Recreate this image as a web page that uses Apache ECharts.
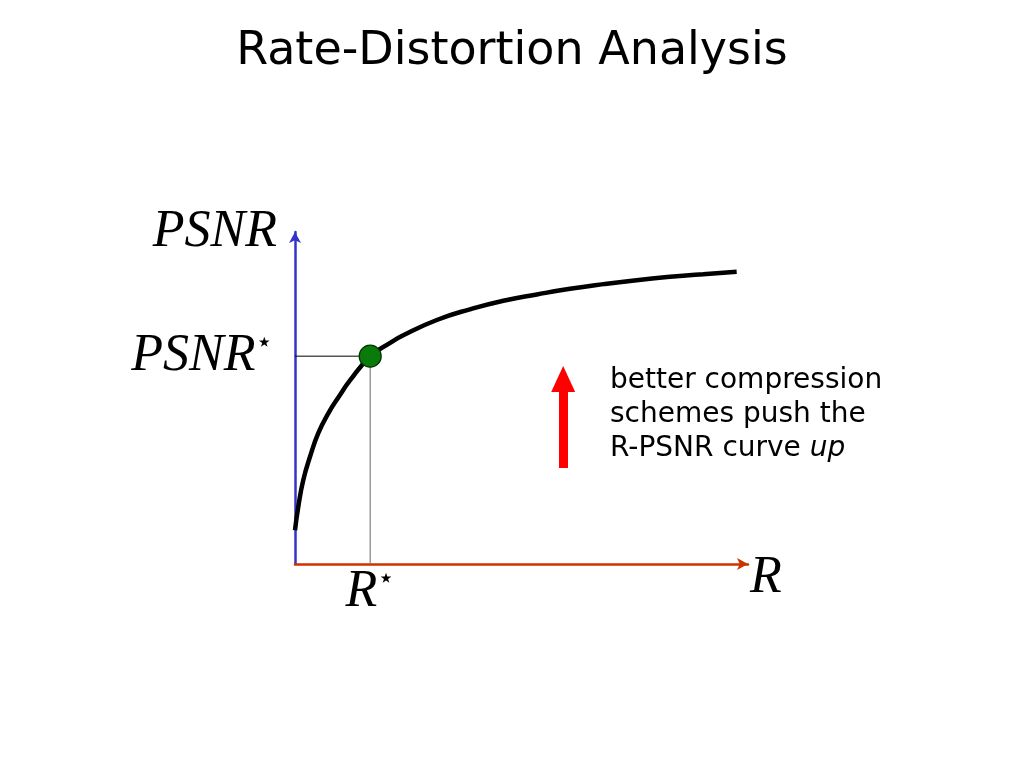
<!DOCTYPE html>
<html>
<head>
<meta charset="utf-8">
<script src="https://cdn.jsdelivr.net/npm/echarts@6/dist/echarts.min.js"></script>
<style>html,body{margin:0;padding:0;background:#fff}#c{width:1024px;height:768px}</style>
</head>
<body>
<div id="c"></div>
<script>
// R-PSNR curve samples (rate, psnr) in arbitrary units
const rateValues = [0, 0.73, 1.83, 3.31, 5.14, 7.35, 9.93, 12.1, 16.6, 21.0, 23.9, 31.3, 38.6, 46.0, 53.4, 60.7, 68.1, 75.4, 82.8, 90.1, 97.5];
const psnrValues = [10.2, 17.3, 25.3, 32.3, 39.4, 45.4, 50.9, 55.2, 62.5, 66.6, 68.9, 73.5, 76.7, 79.3, 81.2, 82.9, 84.3, 85.5, 86.5, 87.3, 88.0];
// operating point (R*, PSNR*)
const operatingPoint = [16.6, 62.6];
// "push up" arrow: x, y from, y to
const pushArrow = [59.2, 28.9, 55.7];
const titleText = 'Rate-Distortion Analysis';
const xName = 'R';
const yName = 'PSNR';
const noteLines = ['better compression', 'schemes push the', 'R-PSNR curve '];
const noteItalic = 'up';

const curve = rateValues.map((r, i) => [r, psnrValues[i]]);
const mathFont = '"Liberation Serif", "DejaVu Serif", serif';
const starRich = {
  m: { fontFamily: mathFont, fontStyle: 'italic', fontSize: 52, color: '#000' },
  s: { fontFamily: '"DejaVu Sans"', fontSize: 28, color: '#000', verticalAlign: 'top', padding: [0, 0, 18, 0] }
};

const chart = echarts.init(document.getElementById('c'));
chart.setOption({
  backgroundColor: '#fff',
  animation: false,
  title: {
    text: titleText, left: 'center', top: 24,
    textStyle: { fontFamily: '"DejaVu Sans"', fontWeight: 'normal', fontSize: 46, color: '#000' }
  },
  grid: { left: 295, right: 276, top: 232, bottom: 204 },
  xAxis: {
    type: 'value', min: 0, max: 100,
    name: xName, nameLocation: 'end', nameGap: 2,
    nameTextStyle: { fontFamily: mathFont, fontStyle: 'italic', fontSize: 52, color: '#000', verticalAlign: 'top', lineHeight: 28 },
    axisLine: { show: true, symbol: ['none', 'arrow'], symbolSize: [9, 11], lineStyle: { color: '#cc3300', width: 2.5 } },
    axisTick: { show: false },
    splitLine: { show: false },
    axisLabel: {
      customValues: [operatingPoint[0]], margin: 2,
      formatter: () => '{m|R}{s|⋆}', rich: starRich
    }
  },
  yAxis: {
    type: 'value', min: 0, max: 100,
    name: yName, nameLocation: 'end', nameGap: 0,
    nameTextStyle: { fontFamily: mathFont, fontStyle: 'italic', fontSize: 52, color: '#000', align: 'right', verticalAlign: 'middle', padding: [0, 18, 0, 0] },
    axisLine: { show: true, symbol: ['none', 'arrow'], symbolSize: [9, 11], lineStyle: { color: '#3333cc', width: 2.5 } },
    axisTick: { show: false },
    splitLine: { show: false },
    axisLabel: {
      customValues: [operatingPoint[1]], margin: 22,
      formatter: () => '{m|PSNR}{s|⋆}', rich: starRich
    }
  },
  graphic: [{
    type: 'text', left: 610, top: 364,
    style: {
      text: noteLines[0] + '\n' + noteLines[1] + '\n' + noteLines[2] + '{i|' + noteItalic + '}',
      font: '28px "DejaVu Sans"', fill: '#000', lineHeight: 34,
      rich: { i: { fontStyle: 'italic', fontFamily: '"DejaVu Sans"', fontSize: 28, lineHeight: 34 } }
    }
  }],
  series: [
    {
      type: 'line', data: [[0, operatingPoint[1]], operatingPoint], symbol: 'none', silent: true,
      lineStyle: { color: '#000', width: 1 }, z: 1
    },
    {
      type: 'line', data: [[operatingPoint[0], 0], operatingPoint], symbol: 'none', silent: true,
      lineStyle: { color: '#808080', width: 1.2 }, z: 1
    },
    {
      type: 'line', data: curve, smooth: true, symbol: 'none',
      lineStyle: { color: '#000', width: 4.5 }, z: 2
    },
    {
      type: 'scatter', data: [operatingPoint], symbolSize: 22,
      itemStyle: { color: '#0a7a0a', borderColor: '#033303', borderWidth: 1.2, opacity: 1 }, z: 3
    },
    {
      type: 'line', data: [], silent: true,
      markLine: {
        silent: true, symbol: ['none', 'triangle'], symbolSize: [24, 26],
        label: { show: false },
        lineStyle: { color: '#ff0000', width: 9, type: 'solid', opacity: 1 },
        data: [[{ coord: [pushArrow[0], pushArrow[1]] }, { coord: [pushArrow[0], pushArrow[2]] }]]
      }
    }
  ]
});
</script>
</body>
</html>
